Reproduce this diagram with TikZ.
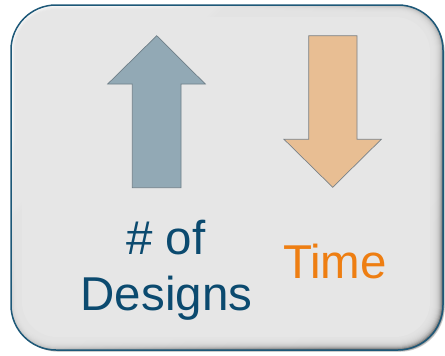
\documentclass[tikz,border=0pt]{standalone}
\usepackage{fontspec}
\setmainfont{Liberation Sans}
\definecolor{framecol}{HTML}{1D5878}
\definecolor{bevel}{HTML}{E6E6E6}
\definecolor{upcol}{HTML}{92A9B5}
\definecolor{upedge}{HTML}{6F7F88}
\definecolor{dncol}{HTML}{E8BE93}
\definecolor{dnedge}{HTML}{7A8288}
\definecolor{bluetxt}{HTML}{0B4A6F}
\definecolor{orangetxt}{HTML}{EE7E12}
\begin{document}
\begin{tikzpicture}[x=1pt,y=-1pt,
  lbl/.style={inner sep=0pt, anchor=base, font=\fontsize{47.5}{56}\selectfont},
  arrowshape/.style={line width=0.7pt, line join=miter}]
\useasboundingbox (0,0) rectangle (445,356);
% drop shadow
\foreach \i in {1,2,3} {
  \fill[black, opacity=0.18, rounded corners=45pt] (11+\i*0.8,5+\i*0.8) rectangle (443+\i*0.6,350+\i*0.6);
}
% bevelled face
\begin{scope}
  \clip[rounded corners=45pt] (11,5) rectangle (443,350);
  \shade[top color=white, bottom color=black!60, shading angle=45] (11,5) rectangle (443,350);
  \foreach \i in {1,...,11} {
    \pgfmathsetmacro\r{45-\i*0.8}
    \fill[bevel, fill opacity=0.3, rounded corners=\r pt] (11+\i*0.75,5+\i*0.8) rectangle (443-\i*1.0,350-\i*1.0);
  }
  \fill[bevel, rounded corners=35pt] (22,17) rectangle (430,337);
\end{scope}
\draw[framecol, line width=1.5pt, rounded corners=45pt] (11,5) rectangle (443,350);
% up arrow
\draw[arrowshape, fill=upcol, draw=upedge] (156.7,35.7) -- (205.3,84) -- (181,84) -- (181,187.7) -- (132.3,187.7) -- (132.3,84) -- (107.7,84) -- cycle;
% down arrow
\draw[arrowshape, fill=dncol, draw=dnedge] (308.7,35.7) -- (357,35.7) -- (357,139.3) -- (381.3,139.3) -- (332.7,187.3) -- (284,139.3) -- (308.7,139.3) -- cycle;
% labels
\node[lbl, text=bluetxt] (num) at (166,254) {\# of};
\node[lbl, text=bluetxt] (designs) at (166.5,310) {Designs};
\node[lbl, text=orangetxt] (time) at (335,278.3) {Time};
\end{tikzpicture}
\end{document}
